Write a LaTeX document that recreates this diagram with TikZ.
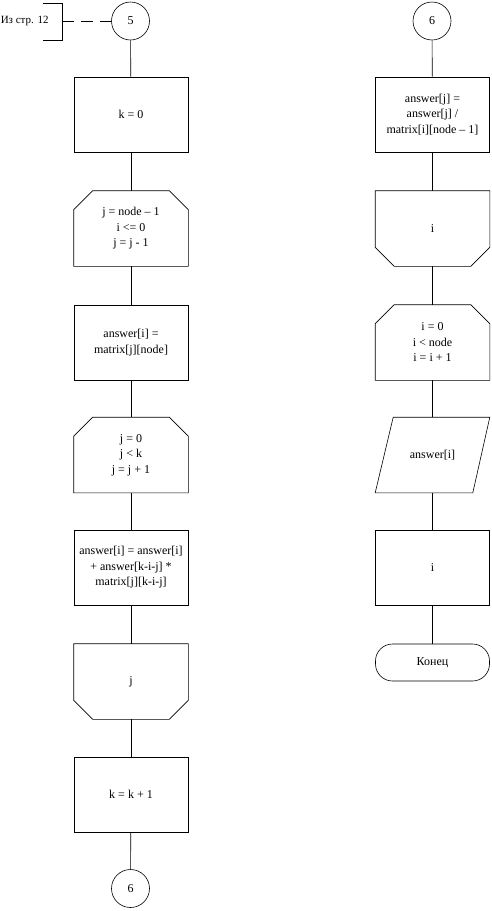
\documentclass[tikz,border=0pt]{standalone}
\usepackage{fontspec}
\setmainfont{Liberation Serif}
\usetikzlibrary{calc}
\begin{document}
\begin{tikzpicture}[x=1pt,y=1pt,line width=0.6pt,
  every node/.style={font=\fontsize{12}{15.5}\selectfont, align=center, inner sep=0pt},
  procbox/.style={draw, rectangle, minimum width=114pt, minimum height=75pt},
  plainbox/.style={rectangle, minimum width=114pt, minimum height=75pt},
  conn/.style={draw, circle, minimum size=38pt},
  term/.style={draw, rectangle, rounded corners=17pt, minimum width=114pt, minimum height=37pt},
  flow/.style={draw}
]
\useasboundingbox (0,0) rectangle (492,-911);

% left column
\node[conn] (c5) at (130.5,-21) {5};
\node[procbox] (b1) at (131,-114.5) {k = 0};
\node[plainbox] (l1) at (131,-228.5) {j = node -- 1\\i <= 0\\j = j - 1};
\node[procbox] (b2) at (131,-342.5) {answer[i] =\\matrix[j][node]};
\node[plainbox] (l2) at (131,-455) {j = 0\\j < k\\j = j + 1};
\node[procbox] (b3) at (131,-567.5) {answer[i] = answer[i]\\+ answer[k-i-j] *\\matrix[j][k-i-j]};
\node[plainbox] (e1) at (131,-681.5) {j};
\node[procbox] (b4) at (131,-794.5) {k = k + 1};
\node[conn] (c6a) at (130.5,-888.5) {6};

% comment
\node[anchor=west, font=\fontsize{11}{13}\selectfont] (cmt) at (0.5,-21) {Из стр. 12};
\coordinate (cmb) at (62,-21);
\draw (43,-3) -- (62,-3) -- (62,-40) -- (43,-40);
\draw[dash pattern=on 12pt off 7pt] (cmb) -- (c5);

% right column
\node[conn] (c6b) at (432,-21) {6};
\node[procbox] (r1) at (432.5,-114.5) {answer[j] =\\answer[j] /\\matrix[i][node -- 1]};
\node[plainbox] (re1) at (432.5,-228.5) {i};
\node[plainbox] (rl1) at (432.5,-342.5) {i = 0\\i < node\\i = i + 1};
\node[plainbox] (io) at (432.5,-455) {answer[i]};
\node[procbox] (re2) at (432.5,-567.5) {i};
\node[term] (end) at (432.5,-662.5) {Конец};

% loop start shapes (chamfered top)
\foreach \n in {l1,l2,rl1}{
  \draw (\n.south west) -- ($(\n.north west)+(0,-19)$) -- ($(\n.north west)+(19,0)$)
     -- ($(\n.north east)+(-19,0)$) -- ($(\n.north east)+(0,-19)$) -- (\n.south east) -- cycle;
}
% loop end shapes (chamfered bottom)
\foreach \n in {e1,re1}{
  \draw (\n.north west) -- ($(\n.south west)+(0,19)$) -- ($(\n.south west)+(19,0)$)
     -- ($(\n.south east)+(-19,0)$) -- ($(\n.south east)+(0,19)$) -- (\n.north east) -- cycle;
}
% parallelogram
\draw (io.south west) -- ($(io.north west)+(18,0)$) -- (io.north east) -- ($(io.south east)+(-17,0)$) -- cycle;

% connectors
\draw[flow] (c5) -- (b1);
\draw[flow] (b1) -- (l1);
\draw[flow] (l1) -- (b2);
\draw[flow] (b2) -- (l2);
\draw[flow] (l2) -- (b3);
\draw[flow] (b3) -- (e1);
\draw[flow] (e1) -- (b4);
\draw[flow] (b4) -- (c6a);

\draw[flow] (c6b) -- (r1);
\draw[flow] (r1) -- (re1);
\draw[flow] (re1) -- (rl1);
\draw[flow] (rl1) -- (io);
\draw[flow] (io) -- (re2);
\draw[flow] (re2) -- (end);
\end{tikzpicture}
\end{document}
